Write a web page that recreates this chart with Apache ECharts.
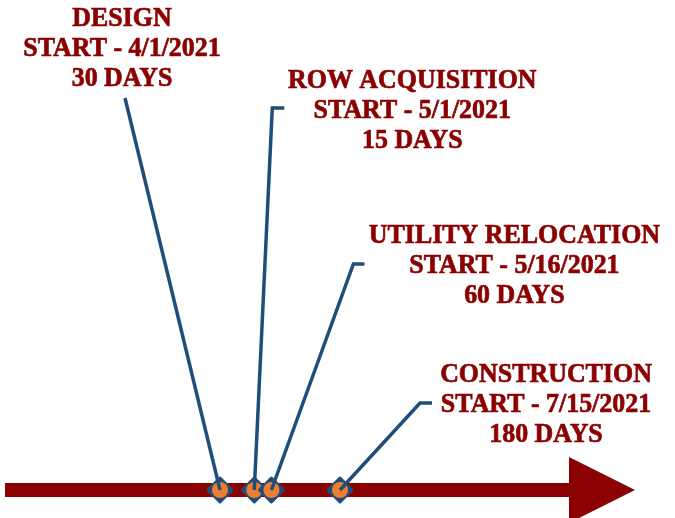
<!DOCTYPE html>
<html>
<head>
<meta charset="utf-8">
<script src="https://cdn.jsdelivr.net/npm/echarts@6/dist/echarts.min.js"></script>
<style>
html,body{margin:0;padding:0;background:#fff;}
#chart{width:675px;height:518px;}
</style>
</head>
<body>
<div id="chart"></div>
<script>
// ---- data ----
const taskNames = ['DESIGN', 'ROW ACQUISITION', 'UTILITY RELOCATION', 'CONSTRUCTION'];
const startDates = ['2021-04-01', '2021-05-01', '2021-05-16', '2021-07-15'];
const startLabels = ['4/1/2021', '5/1/2021', '5/16/2021', '7/15/2021'];
const durationDays = [30, 15, 60, 180];

// ---- layout (pixel offsets of callouts relative to each marker) ----
const callouts = [
  { path: [[-95, -392]], text: [-98, -441] },
  { path: [[18, -382], [30, -382]], text: [158, -379] },
  { path: [[82, -226], [93, -226]], text: [243, -224] },
  { path: [[80, -87], [92, -87]], text: [206, -85] }
];

const DAY = 86400000;
const axisMin = new Date('2020-09-20T12:00:00Z').getTime();
const axisMax = axisMin + 675 / (120 / 105) * DAY;

const RED = '#8b0000';
const BLUE = '#1f4e79';
const ORANGE = '#ed7d31';

const chart = echarts.init(document.getElementById('chart'), null, { renderer: 'canvas' });

const seriesData = startDates.map((d, i) => [new Date(d + 'T00:00:00Z').getTime(), 0, i]);

chart.setOption({
  animation: false,
  backgroundColor: '#ffffff',
  grid: { left: 0, right: 0, top: 0, bottom: 0 },
  xAxis: { type: 'time', min: axisMin, max: axisMax, show: false },
  yAxis: { type: 'value', min: -28, max: 490, show: false },
  graphic: [
    {
      type: 'polygon',
      z: 0,
      shape: { points: [[5, 483], [569, 483], [569, 457], [635, 490], [569, 523], [569, 497], [5, 497]] },
      style: { fill: RED }
    }
  ],
  series: [{
    type: 'custom',
    coordinateSystem: 'cartesian2d',
    z: 10,
    data: seriesData,
    renderItem: function (params, api) {
      const i = api.value(2);
      const p = api.coord([api.value(0), api.value(1)]);
      const c = callouts[i];
      const pts = [[p[0], p[1]]].concat(c.path.map(o => [p[0] + o[0], p[1] + o[1]]));
      const s = 12;
      return {
        type: 'group',
        children: [
          {
            type: 'polygon',
            shape: { points: [[p[0], p[1] - s], [p[0] + s, p[1]], [p[0], p[1] + s], [p[0] - s, p[1]]] },
            style: { fill: BLUE, stroke: BLUE, lineWidth: 3, lineJoin: 'round' }
          },
          {
            type: 'circle',
            shape: { cx: p[0], cy: p[1], r: 8 },
            style: { fill: ORANGE }
          },
          {
            type: 'polyline',
            shape: { points: pts },
            style: { stroke: BLUE, lineWidth: 3.5, fill: null }
          },
          {
            type: 'text',
            x: p[0] + c.text[0],
            y: p[1] + c.text[1],
            scaleX: 0.96,
            style: {
              text: taskNames[i] + '\nSTART - ' + startLabels[i] + '\n' + durationDays[i] + ' DAYS',
              fill: RED,
              stroke: RED,
              lineWidth: 0.7,
              font: 'bold 27px "Liberation Serif", "Times New Roman", serif',
              lineHeight: 30,
              align: 'center',
              verticalAlign: 'middle'
            }
          }
        ]
      };
    }
  }]
});
</script>
</body>
</html>
